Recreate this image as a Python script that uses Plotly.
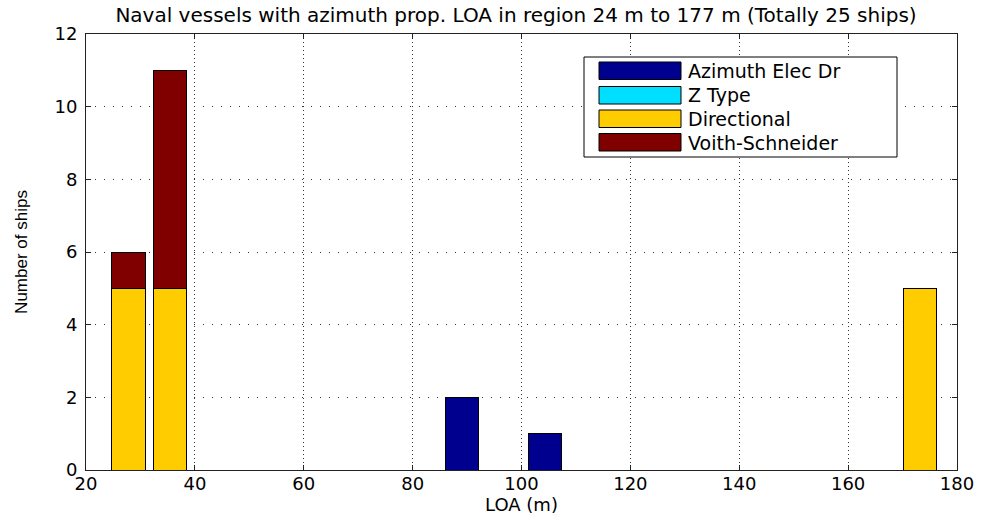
import plotly.graph_objects as go

loa_centres = [27.8, 35.5, 89.0, 104.3, 173.2]
bar_width = 6.1
series_names = ["Azimuth Elec Dr", "Z Type", "Directional", "Voith-Schneider"]
azimuth_elec = [0, 0, 2, 1, 0]
z_type = [0, 0, 0, 0, 0]
directional = [5, 5, 0, 0, 5]
voith_schneider = [1, 6, 0, 0, 0]
series_values = [azimuth_elec, z_type, directional, voith_schneider]
series_colors = ["#00008F", "#00DFFF", "#FFCC00", "#800000"]

x_ticks = [20, 40, 60, 80, 100, 120, 140, 160, 180]
y_ticks = [0, 2, 4, 6, 8, 10, 12]

W, H = 984, 520
ML, MR, MT, MB = 86, 27, 34, 50
PW, PH = W - ML - MR, H - MT - MB

def px(xp):
    return (xp - ML) / PW

def py(yp):
    return (H - MB - yp) / PH

wide = "DejaVu Sans, Verdana, sans-serif"
narrow = "Liberation Sans, Arial, sans-serif"

fig = go.Figure()
for name, vals, col in zip(series_names, series_values, series_colors):
    fig.add_trace(go.Bar(
        x=loa_centres, y=vals, width=bar_width, name=name,
        marker=dict(color=col, line=dict(color="black", width=1)),
        showlegend=False,
    ))

# MATLAB-style legend box with wide swatches
shapes = [dict(type="rect", xref="paper", yref="paper",
               x0=px(584), x1=px(897), y0=py(157), y1=py(57),
               line=dict(color="black", width=1), fillcolor="white", layer="above")]
annotations = []
row_top = [62, 86.5, 110, 133.5]
for i, (name, col) in enumerate(zip(series_names, series_colors)):
    t = row_top[i]
    shapes.append(dict(type="rect", xref="paper", yref="paper",
                       x0=px(599), x1=px(681), y0=py(t + 17.5), y1=py(t),
                       line=dict(color="black", width=1), fillcolor=col, layer="above"))
    annotations.append(dict(xref="paper", yref="paper", x=px(686), y=py(t + 9),
                            xanchor="left", yanchor="middle", text=name, showarrow=False,
                            font=dict(family=wide, size=19, color="black")))

fig.update_layout(
    barmode="stack",
    width=W, height=H,
    margin=dict(l=ML, r=MR, t=MT, b=MB, autoexpand=False),
    paper_bgcolor="white", plot_bgcolor="white",
    font=dict(family=wide, size=18, color="black"),
    title=dict(text="Naval vessels with azimuth prop. LOA in region 24 m to 177 m (Totally 25 ships)",
               x=516 / W, xanchor="center", y=1 - 15 / H, yanchor="middle",
               font=dict(family=wide, size=20)),
    shapes=shapes,
    annotations=annotations,
    showlegend=False,
)
fig.update_xaxes(
    range=[20, 180], tickvals=x_ticks, ticktext=[str(v) for v in x_ticks],
    showline=True, linecolor="#222", linewidth=1, mirror="ticks",
    ticks="inside", ticklen=5, tickcolor="#222",
    showgrid=True, gridcolor="#333", griddash="1px,3px", gridwidth=1,
    zeroline=False, automargin=False,
    title=dict(text="LOA (m)", standoff=0, font=dict(family=wide, size=18)),
    tickfont=dict(family=wide, size=18), ticklabelstandoff=-3,
)
fig.update_yaxes(
    range=[0, 12], tickvals=y_ticks, ticktext=[str(v) for v in y_ticks],
    showline=True, linecolor="#222", linewidth=1, mirror="ticks",
    ticks="inside", ticklen=5, tickcolor="#222",
    showgrid=True, gridcolor="#333", griddash="1px,8px", gridwidth=1,
    zeroline=False, automargin=False,
    title=dict(text="Number of ships", standoff=22, font=dict(family=narrow, size=17)),
    tickfont=dict(family=wide, size=18), ticklabelstandoff=4,
)

fig.write_html("out.html")
